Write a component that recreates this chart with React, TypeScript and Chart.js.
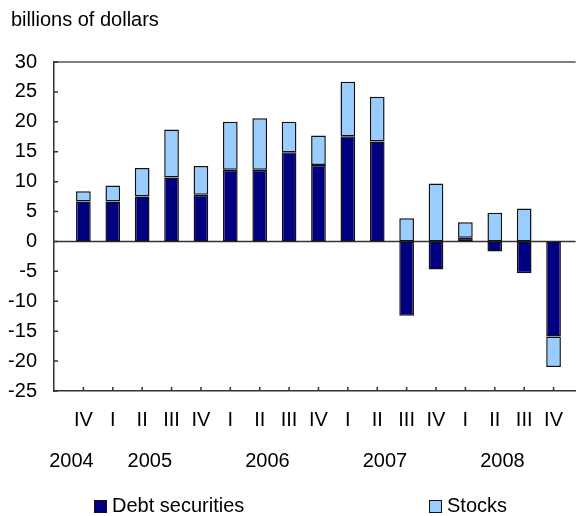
import { useEffect, useRef } from 'react';
import { Chart, registerables } from 'chart.js';

Chart.register(...registerables);

// ---- data ----
const quarters = ['IV', 'I', 'II', 'III', 'IV', 'I', 'II', 'III', 'IV', 'I', 'II', 'III', 'IV', 'I', 'II', 'III', 'IV'];
const years = ['2004', '2005', '2006', '2007', '2008'];
const yearFirstIndex = [0, 1, 5, 9, 13];
const yearLastIndex = [0, 4, 8, 12, 16];
const debtSecurities = [6.7, 6.7, 7.5, 10.7, 7.8, 12.0, 12.0, 14.9, 12.8, 17.6, 16.7, -12.4, -4.7, 0.6, -1.7, -5.3, -15.9];
const stocks = [1.7, 2.65, 4.8, 8.0, 4.8, 8.0, 8.6, 5.1, 4.9, 9.1, 7.5, 3.9, 9.7, 2.6, 4.8, 5.5, -5.1];
const seriesLabels = ['Debt securities', 'Stocks'];
const yMin = -25;
const yMax = 30;
const yStep = 5;
const unitLabel = 'billions of dollars';

const FONT = '"Liberation Sans", Arial, sans-serif';
const DEBT_COLOR = '#000080';
const STOCK_COLOR = '#99CCFF';
const BORDER = '#111111';
const AXIS = '#333333';

const decor = {
  id: 'decor',
  beforeDatasetsDraw(chart: any) {
    const { ctx, chartArea, scales } = chart;
    const y0 = scales.y.getPixelForValue(0);
    ctx.save();
    ctx.strokeStyle = AXIS;
    ctx.lineWidth = 1.5;
    ctx.beginPath();
    ctx.moveTo(chartArea.left, y0);
    ctx.lineTo(chartArea.right, y0);
    ctx.stroke();
    ctx.restore();
  },
  afterDraw(chart: any) {
    const { ctx, chartArea, scales } = chart;
    const { left, right, top, bottom } = chartArea;
    ctx.save();
    // top border
    ctx.strokeStyle = '#555555';
    ctx.lineWidth = 1.5;
    ctx.beginPath();
    ctx.moveTo(left, top);
    ctx.lineTo(right, top);
    ctx.stroke();
    // inward ticks
    ctx.strokeStyle = AXIS;
    ctx.lineWidth = 1.5;
    ctx.beginPath();
    for (let v = yMin; v <= yMax; v += yStep) {
      const py = scales.y.getPixelForValue(v);
      ctx.moveTo(left, py);
      ctx.lineTo(left + 4, py);
    }
    quarters.forEach((_, i) => {
      const px = scales.x.getPixelForValue(i + 1);
      ctx.moveTo(px, bottom);
      ctx.lineTo(px, bottom - 4);
    });
    ctx.stroke();

    ctx.fillStyle = '#000';
    ctx.font = `20px ${FONT}`;
    // unit label
    ctx.textAlign = 'left';
    ctx.textBaseline = 'alphabetic';
    ctx.fillText(unitLabel, 11, 26);

    // year labels
    ctx.textAlign = 'center';
    ctx.textBaseline = 'middle';
    years.forEach((yr, k) => {
      const a = scales.x.getPixelForValue(yearFirstIndex[k] + 1);
      const b = scales.x.getPixelForValue(yearLastIndex[k] + 1);
      const shift = yearFirstIndex[k] === yearLastIndex[k] ? -12 : -7;
      ctx.fillText(yr, (a + b) / 2 + shift, 461);
    });

    // legend
    const legendX = [94, 429];
    const colors = [DEBT_COLOR, STOCK_COLOR];
    ctx.textAlign = 'left';
    seriesLabels.forEach((lab, k) => {
      ctx.fillStyle = colors[k];
      ctx.fillRect(legendX[k], 500, 12, 12);
      ctx.strokeStyle = BORDER;
      ctx.lineWidth = 1;
      ctx.strokeRect(legendX[k] + 0.5, 500.5, 12, 12);
      ctx.fillStyle = '#000';
      ctx.fillText(lab, legendX[k] + 18, 506);
    });
    ctx.restore();
  },
};

export default function App() {
  const ref = useRef<HTMLCanvasElement | null>(null);

  useEffect(() => {
    document.body.style.margin = '0';
    if (!ref.current) return;
    const chart = new Chart(ref.current, {
      type: 'bar',
      data: {
        datasets: [
          {
            label: seriesLabels[0],
            data: debtSecurities.map((v, i) => ({ x: i + 1, y: v })),
            backgroundColor: DEBT_COLOR,
            borderColor: BORDER,
            borderWidth: 1.5,
            borderSkipped: false,
            categoryPercentage: 1,
            barPercentage: 0.5,
          },
          {
            label: seriesLabels[1],
            data: stocks.map((v, i) => ({ x: i + 1, y: v })),
            backgroundColor: STOCK_COLOR,
            borderColor: BORDER,
            borderWidth: 1.5,
            borderSkipped: false,
            categoryPercentage: 1,
            barPercentage: 0.5,
          },
        ],
      },
      options: {
        responsive: false,
        animation: false,
        devicePixelRatio: 1,
        layout: { padding: { top: 62, left: 0, right: 0, bottom: 0 } },
        plugins: { legend: { display: false }, tooltip: { enabled: false } },
        font: { family: FONT, size: 20 },
        scales: {
          x: {
            type: 'linear',
            offset: false,
            min: 0,
            max: 17.75,
            stacked: true,
            grid: { display: false, drawTicks: false, offset: false },
            border: { display: true, color: AXIS, width: 1.5 },
            ticks: {
              stepSize: 1,
              autoSkip: false,
              maxRotation: 0,
              includeBounds: false,
              padding: 17,
              color: '#000',
              font: { family: FONT, size: 20 },
              callback: (v: any) => {
                const n = Number(v);
                return Number.isInteger(n) && n >= 1 && n <= quarters.length ? quarters[n - 1] : '';
              },
            },
            afterFit: (s: any) => {
              s.height = 125;
            },
          },
          y: {
            type: 'linear',
            min: yMin,
            max: yMax,
            stacked: true,
            grid: { display: false, drawTicks: false },
            border: { display: true, color: AXIS, width: 1.5 },
            ticks: {
              stepSize: yStep,
              padding: 17,
              color: '#000',
              font: { family: FONT, size: 20 },
            },
            afterFit: (s: any) => {
              s.width = 54;
            },
          },
        },
      } as any,
      plugins: [decor],
    });
    return () => chart.destroy();
  }, []);

  return (
    <div style={{ position: 'absolute', left: 0, top: 0 }}>
      <canvas ref={ref} width={580} height={516} style={{ display: 'block', width: 580, height: 516 }} />
    </div>
  );
}
